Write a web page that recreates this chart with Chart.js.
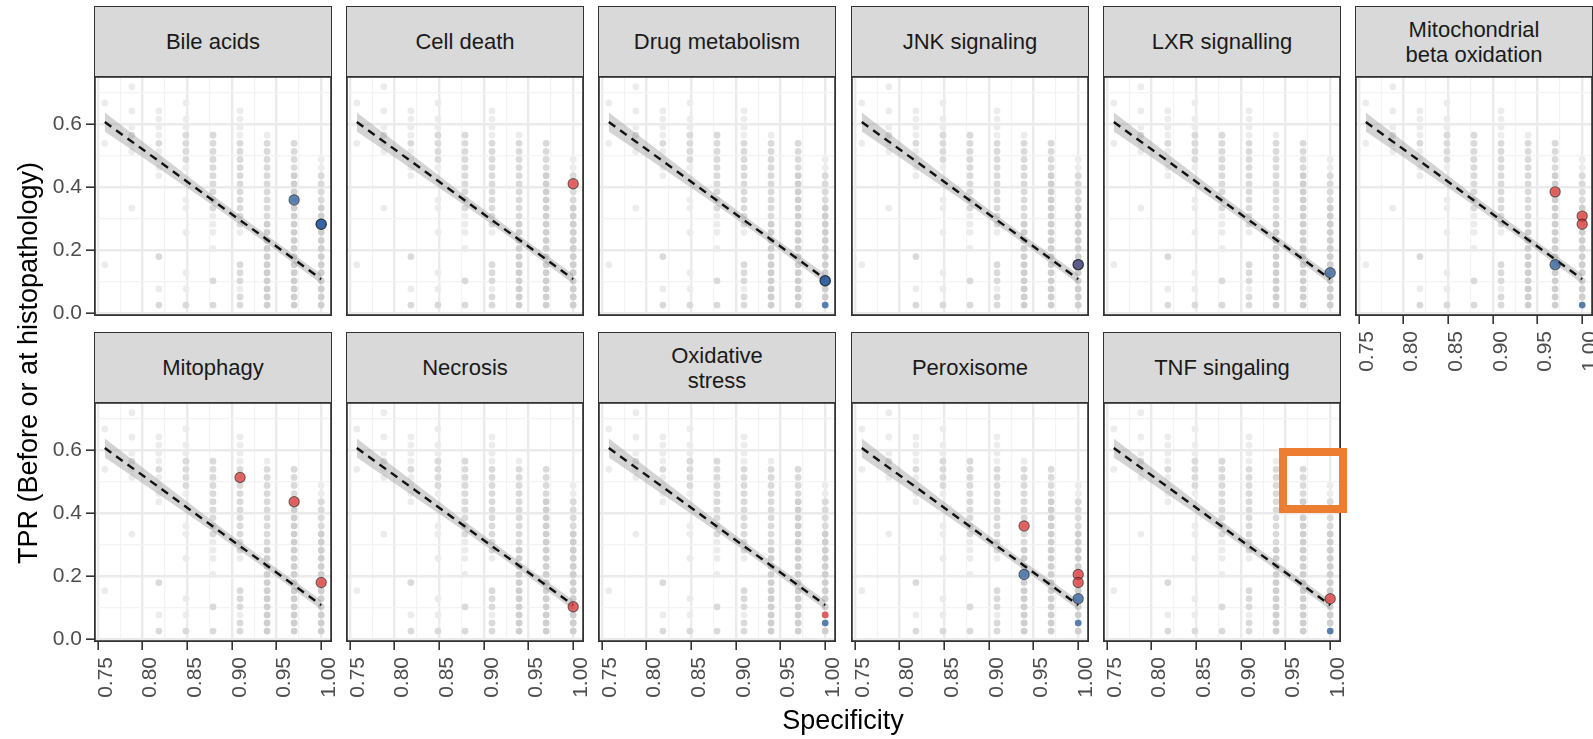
<!DOCTYPE html>
<html>
<head>
<meta charset="utf-8">
<script src="https://cdn.jsdelivr.net/npm/chart.js@4.4.1/dist/chart.umd.min.js"></script>
<style>
  body { margin: 0; background: #fff; width: 1593px; height: 739px; overflow: hidden; position: relative;
         font-family: "Liberation Sans", Arial, sans-serif; }
  .strip { position: absolute; box-sizing: border-box; background: #d9d9d9; border: 1.5px solid #333;
           display: flex; align-items: center; justify-content: center; text-align: center;
           font-size: 22px; line-height: 25px; color: #1a1a1a; white-space: pre-line; }
  canvas { position: absolute; }
  .title { position: absolute; font-size: 27px; line-height: 30px; color: #000; text-align: center; white-space: nowrap; }
  .mark { position: absolute; box-sizing: border-box; border: 8px solid #ed7d31; }
</style>
</head>
<body>
<script>
// facets
const panelNames = ['Bile acids', 'Cell death', 'Drug metabolism', 'JNK signaling', 'LXR signalling',
  'Mitochondrial\nbeta oxidation', 'Mitophagy', 'Necrosis', 'Oxidative\nstress', 'Peroxisome', 'TNF singaling'];

// specificity = 1 - fp / nNeg, TPR = hits / nPos
const nNeg = 33, nPos = 39;

// grey background cloud, one list per false-positive column
const bgFp = [8, 7, 6, 5, 4, 3, 2, 1, 0];
const bgHits = [
  [26, 21, 6],
  [28, 25, 23, 22, 21, 20, 13],
  [25, 24, 23, 22, 21, 20, 19, 18, 17, 7, 3, 1],
  [26, 24, 23, 22, 21, 20, 19, 18, 14, 13, 10, 5, 3, 1],
  [22, 21, 20, 19, 18, 17, 16, 15, 14, 13, 12, 11, 10, 8, 4, 1],
  [25, 24, 23, 22, 21, 20, 19, 18, 17, 16, 15, 14, 13, 12, 11, 10, 6, 5, 4, 3, 2, 1],
  [22, 21, 20, 19, 18, 17, 16, 15, 14, 13, 12, 11, 10, 9, 8, 7, 6, 5, 4, 3, 2, 1],
  [21, 20, 19, 18, 17, 16, 15, 14, 13, 12, 11, 10, 9, 8, 7, 6, 5, 4, 3, 2, 1],
  [19, 18, 17, 16, 15, 14, 13, 12, 11, 10, 9, 8, 7, 6, 5, 4, 3, 2, 1]
];
// how many models stack on each grey dot (1 = faint .. 3 = dark)
const bgDepth = [
  [1, 1, 1],
  [1, 1, 1, 2, 1, 1, 1],
  [1, 1, 1, 1, 2, 1, 1, 1, 1, 2, 1, 2],
  [1, 1, 1, 2, 2, 2, 2, 1, 1, 1, 1, 1, 1, 2],
  [2, 2, 2, 2, 2, 2, 2, 2, 2, 2, 1, 1, 1, 1, 2, 2],
  [1, 1, 1, 1, 2, 2, 2, 2, 2, 2, 2, 2, 2, 2, 2, 1, 2, 2, 2, 1, 2, 2],
  [1, 2, 2, 2, 2, 2, 2, 2, 2, 2, 2, 3, 3, 3, 3, 3, 3, 3, 3, 3, 3, 3],
  [2, 2, 2, 2, 3, 3, 3, 3, 3, 3, 3, 3, 3, 3, 3, 3, 3, 3, 3, 3, 3],
  [1, 1, 2, 2, 2, 2, 3, 3, 3, 3, 3, 3, 3, 3, 3, 3, 3, 3, 3]
];

// linear fit and its confidence band
const fitSpec = [0.7576, 0.8182, 0.8788, 0.9394, 1.0];
const fitTpr  = [0.606, 0.482, 0.357, 0.233, 0.108];
const fitLow  = [0.576, 0.459, 0.341, 0.220, 0.093];
const fitHigh = [0.636, 0.505, 0.373, 0.246, 0.123];

// highlighted gene sets per facet (R/B = large red/blue, r/b = small)
const hiFp   = [[1, 0, 0], [0], [0, 0, 0], [0, 0], [0], [1, 1, 0, 0, 0], [3, 1, 0], [0], [0, 0], [2, 2, 0, 0, 0, 0], [0, 0]];
const hiHits = [[14, 11, 11], [16], [4, 4, 1], [6, 6], [5], [15, 6, 12, 11, 1], [20, 17, 7], [4], [3, 2], [14, 8, 8, 7, 5, 2], [5, 1]];
const hiKind = [['B', 'B', 'B'], ['R'], ['B', 'B', 'b'], ['R', 'B'], ['B'], ['R', 'B', 'R', 'R', 'b'],
  ['R', 'R', 'R'], ['R'], ['r', 'b'], ['R', 'B', 'R', 'R', 'B', 'b'], ['R', 'b']];

// axes
const xTickVals = [0.75, 0.775, 0.8, 0.825, 0.85, 0.875, 0.9, 0.925, 0.95, 0.975, 1.0];
const xTickLabels = ['0.75', '', '0.80', '', '0.85', '', '0.90', '', '0.95', '', '1.00'];
const yTickVals = [0, 0.1, 0.2, 0.3, 0.4, 0.5, 0.6, 0.7];
const yTickLabels = ['0.0', '', '0.2', '', '0.4', '', '0.6', ''];

Chart.defaults.font.family = '"Liberation Sans", Arial, sans-serif';

const W = 238, H = 240;
const colLeft = c => Math.round(94 + c * 252.2);
const plotTop = [76, 402];
const stripTop = [6, 332];
const padRight = 16, padBottom = 14;
const depthColor = { 1: '#ececec', 2: '#dadada', 3: '#cfcfcf' };
const red = 'rgba(228,45,45,0.7)', blue = 'rgba(37,91,160,0.7)';

const bgPoints = [], bgColors = [];
bgFp.forEach((fp, k) => {
  bgHits[k].forEach((h, m) => {
    bgPoints.push({ x: 1 - fp / nNeg, y: h / nPos });
    bgColors.push(depthColor[bgDepth[k][m]]);
  });
});
const fitLine = fitSpec.map((x, i) => ({ x, y: fitTpr[i] }));
const bandHigh = fitSpec.map((x, i) => ({ x, y: fitHigh[i] }));
const bandLow = fitSpec.map((x, i) => ({ x, y: fitLow[i] }));

const panelBorder = {
  id: 'panelBorder',
  afterDatasetsDraw(chart) {
    const a = chart.chartArea, ctx = chart.ctx;
    ctx.save();
    ctx.strokeStyle = '#333';
    ctx.lineWidth = 1.8;
    ctx.strokeRect(a.left + 0.9, a.top + 0.9, a.right - a.left - 1.8, a.bottom - a.top - 1.8);
    ctx.restore();
  }
};

const noPad = s => { s.paddingTop = 0; s.paddingBottom = 0; s.paddingLeft = 0; s.paddingRight = 0; };
const gridColor = ctx => (ctx.index % 2 === 0 ? '#ebebeb' : '#f3f3f3');
const gridWidth = ctx => (ctx.index % 2 === 0 ? 2.4 : 1.2);
const tickColor = ctx => (ctx.index % 2 === 0 ? '#333' : 'rgba(0,0,0,0)');

function makePanel(i) {
  const row = i < 6 ? 0 : 1, col = i < 6 ? i : i - 6;
  const left = colLeft(col);
  const showY = col === 0;
  const showX = row === 1 || i === 5;
  const yAxisW = showY ? left : 0;
  const xAxisH = showX ? 72 : 0;
  const bottomPad = showX ? 0 : padBottom;

  const strip = document.createElement('div');
  strip.className = 'strip';
  strip.style.left = left + 'px';
  strip.style.top = stripTop[row] + 'px';
  strip.style.width = W + 'px';
  strip.style.height = '71px';
  strip.textContent = panelNames[i];
  document.body.appendChild(strip);

  const canvas = document.createElement('canvas');
  canvas.width = W + yAxisW + padRight;
  canvas.height = H + xAxisH + bottomPad;
  canvas.style.left = (left - yAxisW) + 'px';
  canvas.style.top = plotTop[row] + 'px';
  document.body.appendChild(canvas);

  const hiPoints = hiFp[i].map((fp, j) => ({ x: 1 - fp / nNeg, y: hiHits[i][j] / nPos }));
  const kinds = hiKind[i];

  new Chart(canvas.getContext('2d'), {
    type: 'scatter',
    data: {
      datasets: [
        { type: 'scatter', data: bgPoints, backgroundColor: bgColors, pointRadius: 3.4, borderWidth: 0, order: 5 },
        { type: 'line', data: bandHigh, borderWidth: 0, borderColor: 'rgba(0,0,0,0)', pointRadius: 0,
          fill: '+1', backgroundColor: 'rgba(153,153,153,0.42)', order: 4 },
        { type: 'line', data: bandLow, borderWidth: 0, borderColor: 'rgba(0,0,0,0)', pointRadius: 0, fill: false, order: 4 },
        { type: 'line', data: fitLine, borderColor: '#111', borderWidth: 2.4, borderDash: [8, 6],
          pointRadius: 0, fill: false, order: 3 },
        { type: 'scatter', data: hiPoints,
          backgroundColor: kinds.map(k => (k === 'R' || k === 'r') ? red : blue),
          pointRadius: kinds.map(k => (k === 'R' || k === 'B') ? 5.1 : 3.3),
          borderWidth: kinds.map(k => (k === 'R' || k === 'B') ? 1.2 : 0),
          borderColor: 'rgba(30,30,30,0.6)', order: 1 }
      ]
    },
    options: {
      responsive: false,
      animation: false,
      devicePixelRatio: 1,
      events: [],
      layout: { padding: { left: 0, top: 0, right: padRight, bottom: bottomPad }, autoPadding: false },
      plugins: { legend: { display: false }, tooltip: { enabled: false } },
      scales: {
        x: {
          type: 'linear', min: 0.7455, max: 1.0121,
          afterBuildTicks: s => { s.ticks = xTickVals.map(v => ({ value: v })); },
          afterFit: s => { s.height = xAxisH; noPad(s); },
          border: { display: false },
          grid: { color: gridColor, lineWidth: gridWidth, drawTicks: showX, tickLength: 8,
                  tickColor: tickColor, tickWidth: 1.6 },
          ticks: { display: showX, autoSkip: false, maxRotation: 90, minRotation: 90, labelOffset: 8,
                   padding: 7, color: '#4d4d4d', font: { size: 21 },
                   callback: (v, idx) => xTickLabels[idx] }
        },
        y: {
          type: 'linear', min: -0.009, max: 0.752,
          afterBuildTicks: s => { s.ticks = yTickVals.map(v => ({ value: v })); },
          afterFit: s => { s.width = yAxisW; noPad(s); },
          border: { display: false },
          grid: { color: gridColor, lineWidth: gridWidth, drawTicks: showY, tickLength: 8,
                  tickColor: tickColor, tickWidth: 1.6 },
          ticks: { display: showY, autoSkip: false, padding: 4, color: '#4d4d4d', font: { size: 21 },
                   callback: (v, idx) => yTickLabels[idx] }
        }
      }
    },
    plugins: [panelBorder]
  });
}

panelNames.forEach((_, i) => makePanel(i));

const xTitle = document.createElement('div');
xTitle.className = 'title';
xTitle.textContent = 'Specificity';
xTitle.style.left = '693px';
xTitle.style.width = '300px';
xTitle.style.top = '705px';
document.body.appendChild(xTitle);

const yTitle = document.createElement('div');
yTitle.className = 'title';
yTitle.textContent = 'TPR (Before or at histopathology)';
yTitle.style.width = '460px';
yTitle.style.left = (28 - 230) + 'px';
yTitle.style.top = (363 - 15) + 'px';
yTitle.style.transform = 'rotate(-90deg)';
document.body.appendChild(yTitle);

const mark = document.createElement('div');
mark.className = 'mark';
mark.style.left = '1279px';
mark.style.top = '448px';
mark.style.width = '68px';
mark.style.height = '65px';
document.body.appendChild(mark);
</script>
</body>
</html>
